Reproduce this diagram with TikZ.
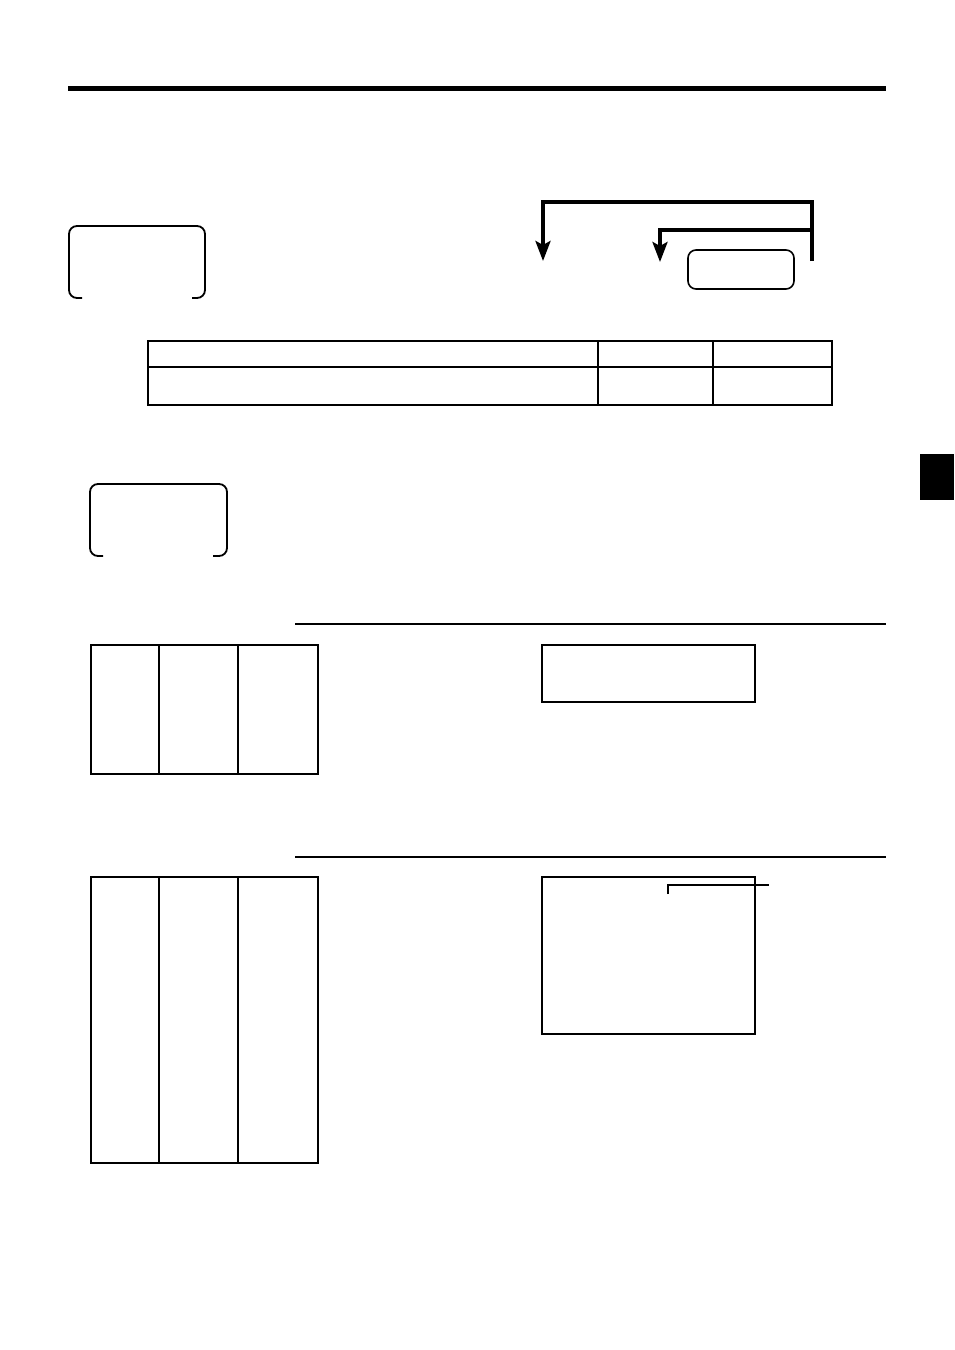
\documentclass[tikz,border=0pt]{standalone}
\usetikzlibrary{arrows.meta}
\begin{document}
\begin{tikzpicture}[x=1pt,y=-1pt,
  thinline/.style={line width=1.2pt},
  midline/.style={line width=1.8pt},
  boldline/.style={line width=3.6pt},
  bracketbox/.style={line width=1.8pt,rounded corners=8pt},
  flow/.style={line width=3.6pt,-{Stealth[width=15pt,length=20pt,inset=4pt]}},
]
\useasboundingbox (0,0) rectangle (954,1350);
% top rule
\fill (68,86) rectangle (886,91);
% black tab
\fill (920,454) rectangle (954,500);
% bracket boxes
\draw[bracketbox] (82,298) -- (69,298) -- (69,226) -- (205,226) -- (205,298) -- (192,298);
\draw[bracketbox] (103,556) -- (90,556) -- (90,484) -- (227,484) -- (227,556) -- (213,556);
% flow lines
\coordinate (oR) at (812,261);
\coordinate (oC) at (812,202);
\coordinate (oL) at (543,202);
\coordinate (oT) at (543,261);
\coordinate (iR) at (812,230);
\coordinate (iL) at (660,230);
\coordinate (iT) at (660,262);
\draw[boldline,line join=miter] (oR) -- (oC) -- (oL) -- ++(0,20);
\draw[flow] (oL) ++(0,15) -- (oT);
\draw[boldline] (iR) -- (iL) -- ++(0,15);
\draw[flow] (iL) ++(0,10) -- (iT);
\draw[line width=1.6pt,rounded corners=8pt] (688,250) rectangle (794,289);
% table
\draw[midline] (148,341) rectangle (832,405);
\draw[line width=2.4pt] (148,341) -- (832,341);
\draw[midline] (148,367) -- (832,367);
\draw[thinline] (598,341) -- (598,405);
\draw[midline] (713,341) -- (713,405);
% section rules
\draw[thinline] (295,624) -- (886,624);
\draw[thinline] (295,857) -- (886,857);
% first grid
\draw[midline] (91,645) rectangle (318,774);
\draw[line width=2.4pt] (91,645) -- (318,645);
\draw[midline] (159,645) -- (159,774);
\draw[midline] (238,645) -- (238,774);
\draw[thinline] (542,645) rectangle (755,702);
% second grid
\draw[midline] (91,877) rectangle (318,1163);
\draw[line width=2.4pt] (91,877) -- (318,877);
\draw[midline] (159,877) -- (159,1163);
\draw[midline] (238,877) -- (238,1163);
\draw[thinline] (542,877) rectangle (755,1034);
\coordinate (ld1) at (668,894);
\coordinate (ld2) at (668,885);
\coordinate (ld3) at (769,885);
\draw[thinline] (ld1) -- (ld2) -- (ld3);
\end{tikzpicture}
\end{document}
